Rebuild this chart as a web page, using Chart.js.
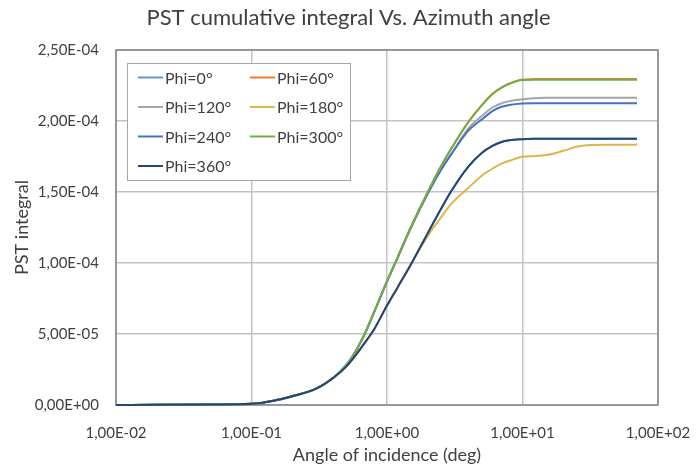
<!DOCTYPE html>
<html>
<head>
<meta charset="utf-8">
<script src="https://cdn.jsdelivr.net/npm/chart.js@4.4.1/dist/chart.umd.min.js"></script>
<style>
  html, body { margin: 0; padding: 0; background: #fff; }
  #wrap { width: 697px; height: 466px; }
</style>
</head>
<body>
<div id="wrap"><canvas id="pst-chart"></canvas></div>
<script>
// angle of incidence (deg), log axis
const xValues = [0.01, 0.02, 0.05, 0.1, 0.15, 0.2, 0.3, 0.4, 0.5, 0.6, 0.7, 0.8, 1, 1.2, 1.5, 2, 2.5, 3, 4, 5, 6, 7, 8, 10, 12, 15, 20, 25, 30, 40, 50, 70];

// PST integral, in units of 1E-04
const phi0   = [0, 0.001, 0.003, 0.008, 0.033, 0.062, 0.115, 0.19, 0.27, 0.362, 0.45, 0.53, 0.70, 0.83, 0.99, 1.21, 1.38, 1.51, 1.68, 1.775, 1.825, 1.852, 1.864, 1.872, 1.875, 1.875, 1.875, 1.875, 1.875, 1.875, 1.875, 1.875];
const phi60  = [0, 0.001, 0.003, 0.008, 0.033, 0.062, 0.115, 0.19, 0.28, 0.395, 0.52, 0.65, 0.87, 1.04, 1.25, 1.50, 1.68, 1.81, 1.995, 2.11, 2.19, 2.235, 2.263, 2.292, 2.295, 2.296, 2.296, 2.296, 2.296, 2.296, 2.296, 2.296];
const phi120 = [0, 0.001, 0.003, 0.008, 0.033, 0.062, 0.115, 0.19, 0.28, 0.395, 0.52, 0.65, 0.87, 1.04, 1.25, 1.49, 1.655, 1.77, 1.95, 2.035, 2.095, 2.125, 2.14, 2.153, 2.16, 2.164, 2.164, 2.164, 2.164, 2.164, 2.164, 2.164];
const phi180 = [0, 0.001, 0.003, 0.008, 0.033, 0.062, 0.115, 0.19, 0.27, 0.362, 0.45, 0.53, 0.70, 0.83, 0.99, 1.19, 1.32, 1.42, 1.53, 1.615, 1.665, 1.70, 1.72, 1.748, 1.752, 1.76, 1.79, 1.818, 1.83, 1.832, 1.832, 1.832];
const phi240 = [0, 0.001, 0.003, 0.008, 0.033, 0.062, 0.115, 0.19, 0.28, 0.395, 0.52, 0.65, 0.87, 1.04, 1.25, 1.49, 1.655, 1.77, 1.935, 2.01, 2.07, 2.10, 2.113, 2.123, 2.125, 2.125, 2.125, 2.125, 2.125, 2.125, 2.125, 2.125];
const phi300 = [0, 0.001, 0.003, 0.008, 0.033, 0.062, 0.115, 0.19, 0.28, 0.395, 0.52, 0.65, 0.87, 1.04, 1.25, 1.50, 1.68, 1.81, 1.995, 2.11, 2.19, 2.235, 2.262, 2.289, 2.29, 2.29, 2.29, 2.29, 2.29, 2.29, 2.29, 2.29];
const phi360 = [0, 0.001, 0.003, 0.008, 0.033, 0.062, 0.115, 0.19, 0.27, 0.362, 0.45, 0.53, 0.70, 0.83, 0.99, 1.21, 1.38, 1.51, 1.68, 1.775, 1.825, 1.852, 1.864, 1.872, 1.875, 1.875, 1.875, 1.875, 1.875, 1.875, 1.875, 1.875];

const seriesLabels = ['Phi=0°', 'Phi=60°', 'Phi=120°', 'Phi=180°', 'Phi=240°', 'Phi=300°', 'Phi=360°'];
const seriesValues = [phi0, phi60, phi120, phi180, phi240, phi300, phi360];
const seriesColors = ['#5b9bd5', '#ed7d31', '#a5a5a5', '#dcb54c', '#4472c4', '#70ad47', '#264478'];

const xTicks = [0.01, 0.1, 1, 10, 100];
const yUnit = 1e-4;

const FONT = 'Lato, "Open Sans", sans-serif';
const TEXT = '#404040';

// 1.00e-2 -> 1,00E-02
function fmtE(v) {
	const [m, e] = Number(v).toExponential(2).split('e');
	const n = parseInt(e, 10);
	return m.replace('.', ',') + 'E' + (n < 0 ? '-' : '+') + String(Math.abs(n)).padStart(2, '0');
}

const datasets = seriesValues.map((vals, i) => ({
	label: seriesLabels[i],
	data: vals.map((y, j) => ({ x: xValues[j], y: y })),
	borderColor: seriesColors[i],
	backgroundColor: seriesColors[i],
	borderWidth: 2,
	pointRadius: 0,
	cubicInterpolationMode: 'monotone',
	clip: 4,
	order: seriesValues.length - i, // later series on top, like the original
}));

const plotBorder = {
	id: 'plotBorder',
	beforeDatasetsDraw(chart) {
		const { ctx, chartArea: a } = chart;
		ctx.save();
		ctx.strokeStyle = '#858585';
		ctx.lineWidth = 1.5;
		ctx.strokeRect(a.left, a.top, a.right - a.left, a.bottom - a.top);
		ctx.restore();
	},
};

// legend box inside the plot, two columns
const boxLegend = {
	id: 'boxLegend',
	afterDatasetsDraw(chart) {
		const { ctx, chartArea: a } = chart;
		const left = a.left + 11;
		const top = a.top + 13;
		const w = 223;
		const h = 117;
		ctx.save();
		ctx.fillStyle = '#fff';
		ctx.fillRect(left, top, w, h);
		ctx.strokeStyle = '#a6a6a6';
		ctx.lineWidth = 1;
		ctx.strokeRect(left + 0.5, top + 0.5, w, h);
		ctx.font = '16px ' + FONT;
		ctx.textBaseline = 'middle';
		chart.data.datasets.forEach((ds, i) => {
			const col = i % 2;
			const row = Math.floor(i / 2);
			const x = left + 11 + col * 112;
			const y = top + 14.5 + row * 29.5;
			ctx.strokeStyle = ds.borderColor;
			ctx.lineWidth = 2;
			ctx.beginPath();
			ctx.moveTo(x, y);
			ctx.lineTo(x + 25, y);
			ctx.stroke();
			ctx.fillStyle = TEXT;
			ctx.fillText(ds.label, x + 27, y + 1);
		});
		ctx.restore();
	},
};

new Chart(document.getElementById('pst-chart'), {
	type: 'line',
	data: { datasets: datasets },
	plugins: [plotBorder, boxLegend],
	options: {
		responsive: true,
		maintainAspectRatio: false,
		animation: false,
		devicePixelRatio: 1,
		layout: { padding: 0 },
		plugins: {
			legend: { display: false },
			tooltip: { enabled: false },
			title: {
				display: true,
				text: 'PST cumulative integral Vs. Azimuth angle',
				color: TEXT,
				font: { family: FONT, size: 22, weight: 'normal', lineHeight: 1.2 },
				padding: { top: 5, bottom: 18.6 },
			},
		},
		scales: {
			x: {
				type: 'logarithmic',
				min: 0.01,
				max: 100,
				afterBuildTicks: (scale) => {
					scale.ticks = xTicks.map((v) => ({ value: v }));
				},
				afterFit: (scale) => {
					scale.height = 61;
					scale.paddingLeft = 0;
					scale.paddingRight = 39; // room for the last tick label
				},
				grid: { color: '#c3c3c3', lineWidth: 1.5, drawTicks: false },
				border: { display: false },
				ticks: {
					color: TEXT,
					font: { family: FONT, size: 15 },
					padding: 19,
					autoSkip: false,
					maxRotation: 0,
					callback: (v) => fmtE(v),
				},
				title: {
					display: true,
					text: 'Angle of incidence (deg)',
					color: TEXT,
					font: { family: FONT, size: 18, lineHeight: 1.2 },
					padding: { top: 0, bottom: 0 },
				},
			},
			y: {
				min: 0,
				max: 2.5,
				afterFit: (scale) => {
					scale.width = 116;
					scale.paddingTop = 0;
					scale.paddingBottom = 0;
				},
				grid: { color: '#c3c3c3', lineWidth: 1.5, drawTicks: false },
				border: { display: false },
				ticks: {
					stepSize: 0.5,
					color: TEXT,
					font: { family: FONT, size: 15 },
					padding: 17,
					callback: (v) => fmtE(v * yUnit),
				},
				title: {
					display: true,
					text: 'PST integral',
					color: TEXT,
					font: { family: FONT, size: 18, lineHeight: 1.2 },
					padding: { top: 11, bottom: 0 },
				},
			},
		},
	},
});
</script>
</body>
</html>
